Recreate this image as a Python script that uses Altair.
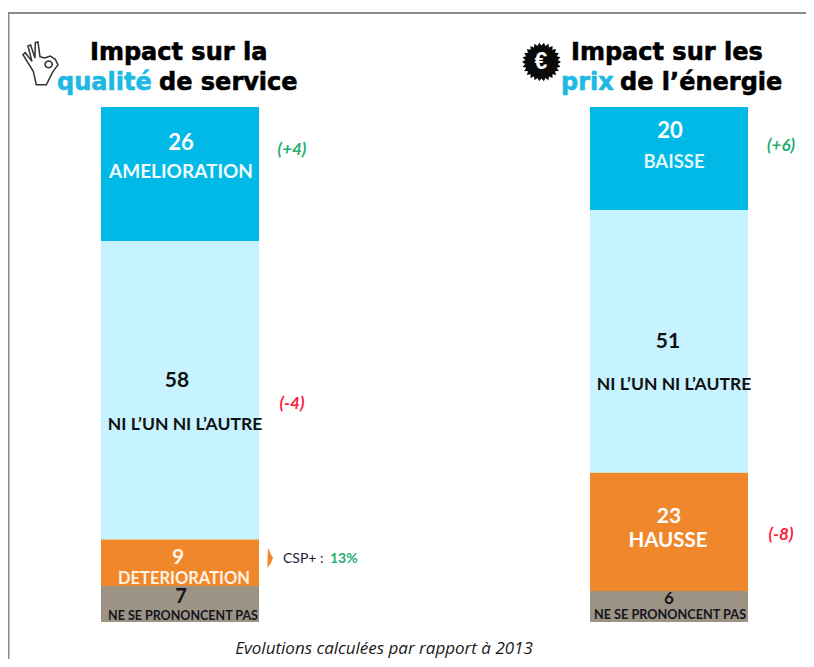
import math
import altair as alt
import pandas as pd

PANELS = ["qualite", "prix"]
ROWS_Q = ["AMELIORATION", "NI L'UN NI L'AUTRE", "DETERIORATION", "NE SE PRONONCENT PAS"]
VALUES_Q = [26, 58, 9, 7]
ROWS_P = ["BAISSE", "NI L'UN NI L'AUTRE", "HAUSSE", "NE SE PRONONCENT PAS"]
VALUES_P = [20, 51, 23, 6]
COLORS = ["#00B9E7", "#C6F3FF", "#F0872B", "#9D9385"]

W, H = 798, 651
SANS = "Lato"
HEAD = "DejaVu Sans"
BAR_TOP, BAR_BOTTOM = 107 - 8, 622 - 8
CENTERS = {"qualite": 180 - 8, "prix": 669 - 8}
NUDGE = 1.5

x_scale = alt.Scale(type="point", domain=PANELS, padding=0, range=[CENTERS["qualite"], CENTERS["prix"]])
y_scale = alt.Scale(domain=[0, 100], range=[BAR_TOP, BAR_BOTTOM])


def table(panel, rows, values):
    recs, c = [], 0
    for r, v, col in zip(rows, values, COLORS):
        recs.append({"panel": panel, "row": r, "value": v, "y0": c, "y1": c + v,
                     "mid": c + v / 2, "color": col})
        c += v
    return recs


recs_q = table("qualite", ROWS_Q, VALUES_Q)
recs_p = table("prix", ROWS_P, VALUES_P)
df = pd.DataFrame(recs_q + recs_p)

bars = alt.Chart(df).mark_bar(size=158).encode(
    x=alt.X("panel:N", scale=x_scale, axis=None),
    y=alt.Y("y0:Q", scale=y_scale, axis=None),
    y2="y1:Q",
    color=alt.Color("color:N", scale=None, legend=None),
)


def px_y(v):
    return BAR_TOP + (BAR_BOTTOM - BAR_TOP) * v / 100


def seg_label(text, rec, cx, cy, size, color, weight="bold", style="normal", font=SANS):
    """Label anchored to a bar segment; cx, cy are where it sits on the page."""
    d = pd.DataFrame([{"panel": rec["panel"], "mid": rec["mid"], "t": text}])
    dx = cx - 8 - CENTERS[rec["panel"]]
    dy = cy + NUDGE - 8 - px_y(rec["mid"])
    return alt.Chart(d).mark_text(
        dx=dx, dy=dy, fontSize=size, font=font, fontWeight=weight, fontStyle=style,
        color=color, align="center", baseline="middle",
    ).encode(x=alt.X("panel:N", scale=x_scale, axis=None),
             y=alt.Y("mid:Q", scale=y_scale, axis=None),
             text="t:N")


def free(text, px, py, size, color, weight="bold", style="normal", font=SANS, align="center", stroke=None):
    kw = dict(fontSize=size, font=font, fontWeight=weight, fontStyle=style, color=color,
              align=align, baseline="middle")
    if stroke:
        kw.update(stroke=color, strokeWidth=stroke)
    return alt.Chart(pd.DataFrame([{"t": text}])).mark_text(**kw).encode(
        x=alt.value(px - 8), y=alt.value(py - 8), text="t:N")


def shape(path, px, py, box, fill=None, stroke=None, sw=1.0):
    kw = dict(shape=path, size=box * box, opacity=1)
    if fill:
        kw.update(filled=True, fill=fill, strokeWidth=0)
    else:
        kw.update(filled=False, stroke=stroke, strokeWidth=sw)
    return alt.Chart(pd.DataFrame([{"a": 1}])).mark_point(**kw).encode(
        x=alt.value(px - 8), y=alt.value(py - 8))


def to_path(polys, cx, cy, half, close=True):
    out = []
    for poly in polys:
        s = " L".join(f"{(a - cx) / half:.3f} {(b - cy) / half:.3f}" for a, b in poly)
        out.append("M" + s + ("Z" if close else ""))
    return " ".join(out)


# icon outlines (drawn in their own local unit square)
hand_outer = [(55, 146), (46, 106), (15, 56), (22, 50), (42, 76), (30, 30), (38, 27), (51, 66), (52, 20),
              (60, 18), (66, 62), (80, 66), (97, 60), (112, 70), (120, 86), (104, 108), (85, 146)]
hand_ring = [(92 + 11 * math.cos(i * math.pi / 6), 85 + 10 * math.sin(i * math.pi / 6)) for i in range(12)]
hand_path = to_path([hand_outer, hand_ring], 70, 80, 70)

teeth = 26
seal = []
for i in range(teeth * 2):
    r = 1.0 if i % 2 == 0 else 0.84
    a = i * math.pi / teeth
    seal.append((r * math.cos(a), r * math.sin(a)))
seal_path = to_path([seal], 0, 0, 1)

tri_path = to_path([[(-0.25, -1), (0.0, -0.45), (0.25, 0), (0.05, 0.5), (-0.3, 1), (-0.3, 0.2)]], 0, 0, 1)

border = [
    alt.Chart(pd.DataFrame([{"a": 1}])).mark_rule(color="#8A8A8A", strokeWidth=2).encode(
        x=alt.value(0.5), y=alt.value(5), y2=alt.value(H)),
    alt.Chart(pd.DataFrame([{"a": 1}])).mark_rule(color="#8A8A8A", strokeWidth=2).encode(
        x=alt.value(0), x2=alt.value(W), y=alt.value(5)),
]

GREEN = "#1FAE6E"
RED = "#FA1E3C"
CYAN = "#1DB9E3"
TS = 24
TW = 0.6

layers = border + [bars] + [
    # titles
    free("Impact sur la", 90, 53, TS, "black", font=HEAD, align="left", stroke=TW),
    free("qualité", 57, 83, TS, CYAN, font=HEAD, align="left", stroke=TW),
    free("de service", 159, 83, TS, "black", font=HEAD, align="left", stroke=TW),
    free("Impact sur les", 571, 53, TS, "black", font=HEAD, align="left", stroke=TW),
    free("prix", 561, 83, TS, CYAN, font=HEAD, align="left", stroke=TW),
    free("de l’énergie", 620, 83, TS, "black", font=HEAD, align="left", stroke=TW),
    # icons
    shape(hand_path, 41.3, 62.7, 46.7, stroke="#333333", sw=1.5),
    shape(seal_path, 541.5, 62, 39, fill="#0A0A0A"),
    free("€", 541, 62, 23, "white", font="Liberation Sans"),
    # left bar
    seg_label(str(VALUES_Q[0]), recs_q[0], 181, 141, 22, "white"),
    seg_label("AMELIORATION", recs_q[0], 181, 170, 19, "#F2FBFE"),
    seg_label(str(VALUES_Q[1]), recs_q[1], 177, 379, 21, "#111111"),
    seg_label("NI L’UN NI L’AUTRE", recs_q[1], 185, 423, 17.5, "#111111"),
    seg_label(str(VALUES_Q[2]), recs_q[2], 178, 556, 21, "#FFF6EC"),
    seg_label("DETERIORATION", recs_q[2], 184, 577, 16.5, "#FFF3E3"),
    seg_label(str(VALUES_Q[3]), recs_q[3], 181, 595, 20, "#15151F"),
    seg_label("NE SE PRONONCENT PAS", recs_q[3], 183, 614, 12.5, "#15151F"),
    # right bar
    seg_label(str(VALUES_P[0]), recs_p[0], 670, 129, 22, "white"),
    seg_label("BAISSE", recs_p[0], 674, 160, 18.5, "#DFF6FC"),
    seg_label(str(VALUES_P[1]), recs_p[1], 668, 340, 21, "#111111"),
    seg_label("NI L’UN NI L’AUTRE", recs_p[1], 674, 383, 17.5, "#111111"),
    seg_label(str(VALUES_P[2]), recs_p[2], 669, 515, 21, "white"),
    seg_label("HAUSSE", recs_p[2], 668, 539, 20.5, "white"),
    seg_label(str(VALUES_P[3]), recs_p[3], 669, 597, 17, "#15151F"),
    seg_label("NE SE PRONONCENT PAS", recs_p[3], 670, 613, 12.7, "#15151F"),
    # evolutions
    free("(+4)", 292, 150, 17, GREEN, style="italic"),
    free("(-4)", 292, 404, 17, RED, style="italic"),
    free("(+6)", 781, 146, 17, GREEN, style="italic"),
    free("(-8)", 781, 535, 17, RED, style="italic"),
    shape(tri_path, 270.5, 558, 20, fill="#F0872B"),
    free("CSP+ : ", 283, 559, 14, "#1A2030", weight="normal", align="left"),
    free("13%", 330, 559, 14, GREEN, align="left"),
    free("Evolutions calculées par rapport à 2013", 384, 649, 17, "#1A1A1A", weight="normal",
         style="italic", font="Open Sans"),
]

chart = alt.layer(*layers).properties(
    width=W, height=H, padding=0, autosize=alt.AutoSizeParams(type="none"),
    background="white",
).configure_view(stroke=None)

chart.save("out.html", embed_options={"renderer": "svg", "actions": False})
